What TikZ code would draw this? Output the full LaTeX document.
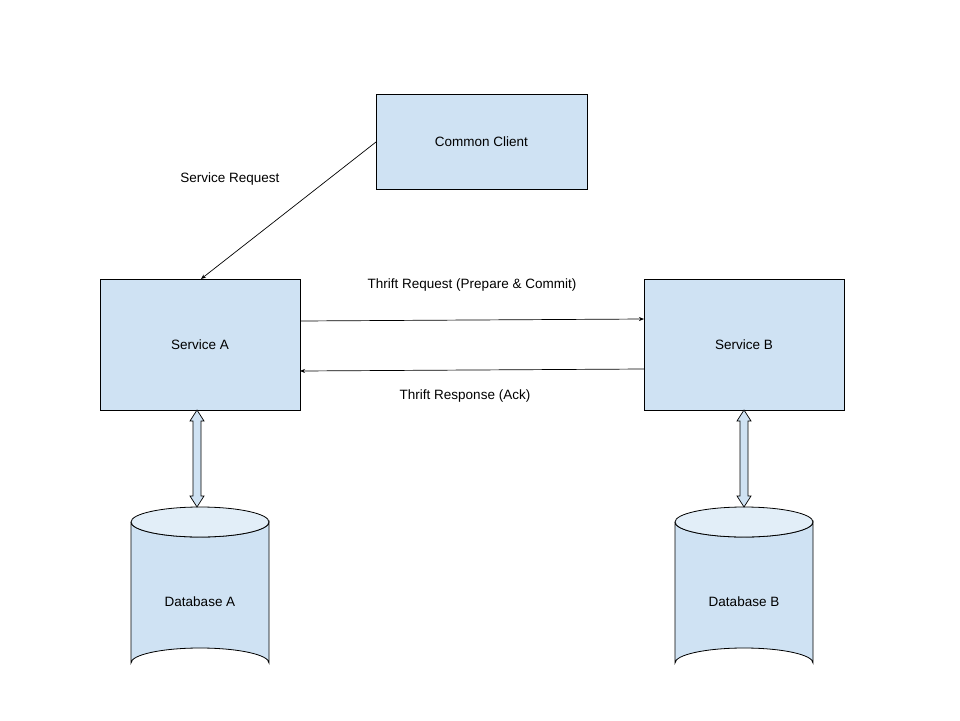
\documentclass[tikz,border=0pt]{standalone}
\usepackage{fontspec}
\setmainfont{Liberation Sans}
\usetikzlibrary{arrows.meta}
\definecolor{boxblue}{HTML}{CFE2F3}
\begin{document}
\begin{tikzpicture}[x=1pt,y=-1pt,
  box/.style={draw=black,fill=boxblue,line width=0.8pt,minimum width=#1,inner sep=0pt},
  lbl/.style={font=\fontsize{13.5}{16}\selectfont},
  con/.style={draw=black,line width=0.7pt,-{Stealth[length=5pt,width=4pt]}}]
\useasboundingbox (0,0) rectangle (960,720);
\fill[white] (0,0) rectangle (960,720);
\node[box=211pt,minimum height=95pt,lbl] (client) at (481.5,141.5) {Common Client};
\node[box=200pt,minimum height=131pt,lbl] (sa) at (200,344.5) {Service A};
\node[box=200pt,minimum height=131pt,lbl] (sb) at (744,344.5) {Service B};
\coordinate (cs) at (376,142);
\coordinate (ce) at (201,279);
\draw[con] (cs) -- (ce);
\draw[con] (300,321) -- (644,319);
\draw[con] (644,369) -- (300,371);
\node[lbl] (l1) at (230,179) {Service Request};
\node[lbl] (l2) at (472,285) {Thrift Request (Prepare \& Commit)};
\node[lbl] (l3) at (465,396) {Thrift Response (Ack)};
% cylinders
\foreach \cx/\nm/\t in {200/dba/Database A,744/dbb/Database B}{
  \filldraw[fill=boxblue,draw=black,line width=0.8pt]
    (\cx-69,522) -- (\cx-69,663) arc[start angle=180,end angle=360,x radius=69,y radius=15]
    -- (\cx+69,522) arc[start angle=0,end angle=180,x radius=69,y radius=15];
  \draw[fill=boxblue!60,line width=0.8pt] (\cx,522) ellipse[x radius=69,y radius=15];
  \node[lbl] (\nm) at (\cx,602) {\t};
}
% block double arrows
\foreach \cx in {197,744}{
  \filldraw[fill=boxblue,draw=black,line width=0.7pt]
    (\cx,410) -- (\cx+7,421) -- (\cx+4,421) -- (\cx+4,496) -- (\cx+7,496) -- (\cx,507)
    -- (\cx-7,496) -- (\cx-4,496) -- (\cx-4,421) -- (\cx-7,421) -- cycle;
}
\end{tikzpicture}
\end{document}
